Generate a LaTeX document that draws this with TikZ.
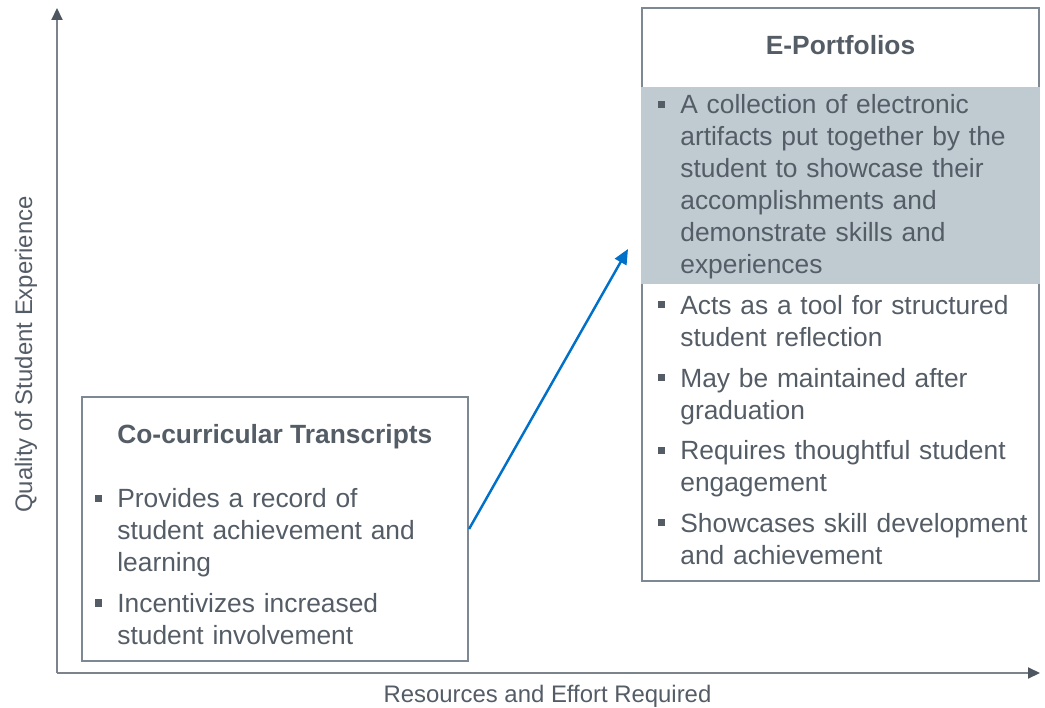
\documentclass[tikz,border=0pt]{standalone}
\usepackage{fontspec}
\setmainfont{Liberation Sans}
\usetikzlibrary{arrows.meta,positioning}

\definecolor{txtgray}{RGB}{84,92,102}
\definecolor{boxgray}{RGB}{125,136,146}
\definecolor{bandgray}{RGB}{192,202,209}
\definecolor{axgray}{RGB}{125,131,138}
\definecolor{axhead}{RGB}{78,86,96}
\definecolor{arrowblue}{RGB}{0,112,200}

\newcommand{\bodyfont}{\fontsize{15}{18.2}\selectfont}
\newcommand{\sq}{\llap{\textcolor{txtgray}{\rule[3.4pt]{4pt}{4pt}}\hspace{0.3cm}}}

\tikzset{
  frame/.style={draw=boxgray, line width=1.2pt, inner sep=0pt},
  bulletitem/.style={inner sep=0pt, text width=#1, align=left, text=txtgray, font=\bodyfont},
  bulletitem/.default=7cm,
  boxtitle/.style={inner sep=0pt, text=txtgray, font=\bodyfont\bfseries},
  axlabel/.style={inner sep=0pt, text=txtgray, font=\fontsize{13.6}{16}\selectfont},
  axis/.style={draw=axgray, line width=1.1pt, -{Triangle[length=0.24cm, width=0.22cm, color=axhead]}}
}

\begin{document}
\begin{tikzpicture}
\useasboundingbox (0,0) rectangle (20.9,14.14);

% axes
\coordinate (origin) at (1.14,0.68);
\coordinate (ytop) at (1.14,13.98);
\coordinate (xend) at (20.8,0.68);
\draw[axis] (origin) -- (ytop);
\draw[axis] (origin) -- (xend);
\node[axlabel, rotate=90, anchor=base] (ylab) at (0.64,7.05) {Quality of Student Experience};
\node[axlabel, anchor=base] (xlab) at (10.95,0.1) {Resources and Effort Required};

% co-curricular box
\node[frame, minimum width=7.72cm, minimum height=5.28cm] (cbox) at (5.5,3.56) {};
\node[boxtitle, anchor=base west] (ctitle) at (2.34,5.27) {Co-curricular Transcripts};
\node[bulletitem=6.5cm, anchor=north west] (c1) at (2.34,4.438)
  {\strut\sq Provides a record of\\student achievement and\\learning\strut};
\node[bulletitem=6.5cm, below=0.16cm of c1.south west, anchor=north west] (c2)
  {\strut\sq Incentivizes increased\\student involvement\strut};

% e-portfolio box
\node[frame, minimum width=7.94cm, minimum height=11.46cm] (ebox) at (16.81,8.25) {};
\fill[bandgray] (12.82,8.46) rectangle (20.80,12.4);
\node[boxtitle, anchor=base] (etitle) at (16.81,13.04) {E-Portfolios};
\node[bulletitem, anchor=north west] (e1) at (13.6,12.318)
  {\strut\sq A collection of electronic\\artifacts put together by the\\student to showcase their\\accomplishments and\\demonstrate skills and\\experiences\strut};
\node[bulletitem, below=0.16cm of e1.south west, anchor=north west] (e2)
  {\strut\sq Acts as a tool for structured\\student reflection\strut};
\node[bulletitem, below=0.16cm of e2.south west, anchor=north west] (e3)
  {\strut\sq May be maintained after\\graduation\strut};
\node[bulletitem, below=0.16cm of e3.south west, anchor=north west] (e4)
  {\strut\sq Requires thoughtful student\\engagement\strut};
\node[bulletitem, below=0.16cm of e4.south west, anchor=north west] (e5)
  {\strut\sq Showcases skill development\\and achievement\strut};

% progression arrow
\coordinate (tip) at (12.56,9.16);
\draw[arrowblue, line width=1.4pt, -{Triangle[length=0.3cm, width=0.26cm]}] (cbox.east) -- (tip);
\end{tikzpicture}
\end{document}
